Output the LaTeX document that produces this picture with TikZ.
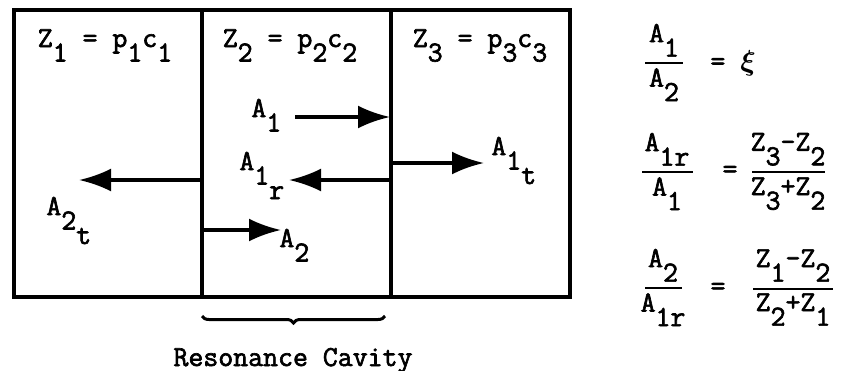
\documentclass[tikz,border=0pt]{standalone}
\usepackage{amsmath}
\usepackage{fontspec}
\newfontfamily\typew[FakeBold=2.2]{Latin Modern Mono}
\usetikzlibrary{arrows.meta, positioning, decorations.pathreplacing}

% typewriter style lowered subscript
\newcommand{\dn}[1]{\raisebox{-0.5em}{#1}}

\begin{document}
\begin{tikzpicture}[
  x=0.5pt, y=-0.5pt,
  wall/.style={line width=2pt},
  wave/.style={-{Latex[length=16pt,width=11.5pt]}, line width=1.7pt},
  tt/.style={font=\typew\fontsize{14.5}{17}\selectfont, inner sep=0pt},
  bar/.style={line width=1.2pt},
  >=Latex
]
  \useasboundingbox (0,0) rectangle (844,370);

  % walls
  \coordinate (tl) at (14,10);
  \coordinate (br) at (570,297);
  \coordinate (w1t) at (202,10);
  \coordinate (w1b) at (202,297);
  \coordinate (w2t) at (391,10);
  \coordinate (w2b) at (391,297);
  \draw[wall] (tl) rectangle (br);
  \draw[wall] (w1t) -- (w1b);
  \draw[wall] (w2t) -- (w2b);

  % media
  \node[tt, anchor=base] (z1) at (105,47) {Z\dn{1} = p\dn{1}c\dn{1}};
  \node[tt, anchor=base] (z2) at (290,47) {Z\dn{2} = p\dn{2}c\dn{2}};
  \node[tt, anchor=base] (z3) at (480,47) {Z\dn{3} = p\dn{3}c\dn{3}};

  % waves
  \node[tt, anchor=base west] (a1) at (251,117) {A\dn{1}};
  \node[tt, anchor=base west] (a1r) at (239,170) {A\dn{1\dn{r}}};
  \node[tt, anchor=base west] (a2) at (279,247) {A\dn{2}};
  \node[tt, anchor=base west] (a1t) at (491,155) {A\dn{1\dn{t}}};
  \node[tt, anchor=base west] (a2t) at (46,215) {A\dn{2\dn{t}}};

  \coordinate (a1s) at (295,117);
  \coordinate (a1e) at (390,117);
  \coordinate (a1rs) at (391,180);
  \coordinate (a1re) at (289,180);
  \coordinate (a2ts) at (202,180);
  \coordinate (a2te) at (79,180);
  \coordinate (a2s) at (202,230);
  \coordinate (a2e) at (281,230);
  \coordinate (a1ts) at (391,163);
  \coordinate (a1te) at (484,163);
  \draw[wave] (a1s) -- (a1e);
  \draw[wave] (a1rs) -- (a1re);
  \draw[wave] (a2ts) -- (a2te);
  \draw[wave] (a2s) -- (a2e);
  \draw[wave] (a1ts) -- (a1te);

  % cavity
  \coordinate (bl) at (202,316);
  \coordinate (bR) at (385,316);
  \draw[line width=1.5pt, decorate, decoration={brace, mirror, amplitude=3.5pt}] (bl) -- (bR);
  \node[tt, anchor=base] (cav) at (293,366) {Resonance Cavity};

  % ratios
  \coordinate (f1) at (664,63);
  \node[tt, anchor=south] (f1n) at (664,57) {A\dn{1}};
  \node[tt, anchor=north] (f1d) at (664,68) {A\dn{2}};
  \draw[bar] (645,63) -- (683,63);
  \node[tt, anchor=west] (eq1) at (710,63) {= $\boldsymbol{\xi}$};

  \node[tt, anchor=south] (f2n) at (667,166) {A\dn{1r}};
  \node[tt, anchor=north] (f2d) at (667,177) {A\dn{1}};
  \draw[bar] (642,172) -- (693,172);
  \node[tt] (eq2) at (730,172) {=};
  \node[tt, anchor=south] (g2n) at (788,166) {Z\dn{3}-Z\dn{2}};
  \node[tt, anchor=north] (g2d) at (788,177) {Z\dn{3}+Z\dn{2}};
  \draw[bar] (752,172) -- (825,172);

  \node[tt, anchor=south] (f3n) at (663,282) {A\dn{2}};
  \node[tt, anchor=north] (f3d) at (663,293) {A\dn{1r}};
  \draw[bar] (645,288) -- (682,288);
  \node[tt] (eq3) at (718,289) {=};
  \node[tt, anchor=south] (g3n) at (793,282) {Z\dn{1}-Z\dn{2}};
  \node[tt, anchor=north] (g3d) at (793,293) {Z\dn{2}+Z\dn{1}};
  \draw[bar] (753,289) -- (833,289);
\end{tikzpicture}
\end{document}
